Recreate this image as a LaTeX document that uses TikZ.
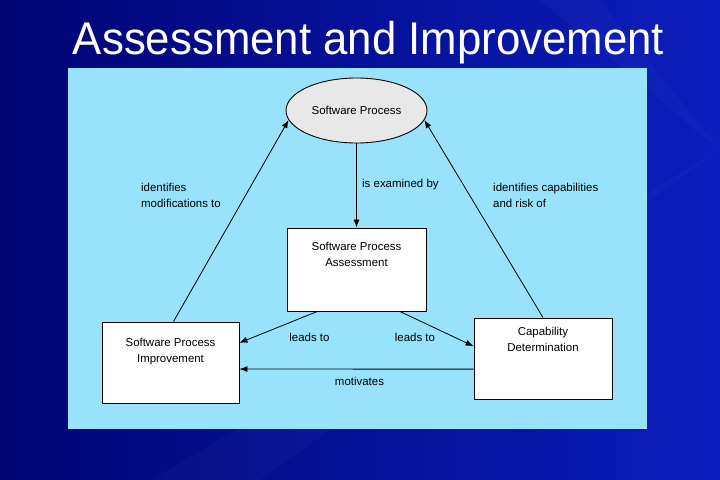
\documentclass[tikz,border=0pt]{standalone}
\usepackage{fontspec}
\setmainfont{Liberation Sans}
\usetikzlibrary{calc,arrows.meta,shapes.geometric}
\definecolor{slidedark}{RGB}{0,4,116}
\definecolor{slidelight}{RGB}{12,30,188}
\definecolor{panelblue}{RGB}{152,226,252}
\definecolor{ovalgrey}{RGB}{232,232,232}
\tikzset{
  procbox/.style={draw=black, fill=white, line width=0.9bp, inner sep=0pt},
  boxtext/.style={anchor=north, align=center, inner sep=0pt, font=\fontsize{11.5}{16.5}\selectfont},
  tag/.style={inner sep=0pt, align=left, font=\fontsize{11.5}{16.5}\selectfont},
  flow/.style={-{Latex[length=8bp,width=6bp]}, line width=0.8bp},
}

\begin{document}
\begin{tikzpicture}[x=1bp,y=-1bp]
		%%%%% START %%%%%
		\useasboundingbox (0,0) rectangle (720,480);
		\shade[left color=slidedark, right color=slidelight] (0,0) rectangle (720,480);
		\fill[white, opacity=0.025] (720,150) -- (150,480) -- (260,480) -- cycle;
		\fill[white, opacity=0.025] (720,150) -- (600,0) -- (540,0) -- cycle;
		
		\node (title) [anchor=base, text=white, xscale=0.955, font=\fontsize{46}{50}\selectfont] at (368.5,55) {Assessment and Improvement};
		
		\fill[panelblue] (68,68) rectangle (647,429);
		
		\node (sp) [ellipse, draw=black, fill=ovalgrey, line width=0.9bp, minimum width=141bp, minimum height=65bp, inner sep=0pt, font=\fontsize{11.5}{16.5}\selectfont] at (356.5,110.5) {Software Process};
		
		\node (spa) [procbox, minimum width=139bp, minimum height=83bp, label={[boxtext, yshift=-14bp]north:Software Process\\Assessment}] at (356.5,269.5) {};
		\node (spi) [procbox, minimum width=137bp, minimum height=81bp, label={[boxtext, yshift=-16bp]north:Software Process\\Improvement}] at (170.5,362.5) {};
		\node (cd) [procbox, minimum width=138bp, minimum height=81bp, label={[boxtext, yshift=-9bp]north:Capability\\Determination}] at (543,358.5) {};
		
		\draw[flow] (sp) -- (spa);
		\draw[flow] ($(spi.north)+(3,0)$) -- (sp.188);
		\draw[flow] (cd.north) -- (sp.-8);
		\draw[flow] ($(spa.south west)!0.22!(spa.south east)$) -- ($(spi.north east)!0.26!(spi.south east)$);
		\draw[flow] ($(spa.south west)!0.81!(spa.south east)$) -- ($(cd.north west)!0.35!(cd.south west)$);
		\draw[flow] ($(cd.north west)!0.63!(cd.south west)$) -- ($(spi.north east)!0.58!(spi.south east)$);
		
		\node (examined) [tag, anchor=base west] at (362,188) {is examined by};
		\node (modifies) [tag, anchor=north west] at (141,183) {identifies\\modifications to};
		\node (capable) [tag, anchor=north west] at (493,183) {identifies capabilities\\and risk of};
		\node (leadsl) [tag, anchor=base] at (309.5,341) {leads to};
		\node (leadsr) [tag, anchor=base] at (415,341) {leads to};
		\node (motivates) [tag, anchor=base] at (359.5,385) {motivates};
		
		%%%%% END %%%%%
\end{tikzpicture}
\end{document}
